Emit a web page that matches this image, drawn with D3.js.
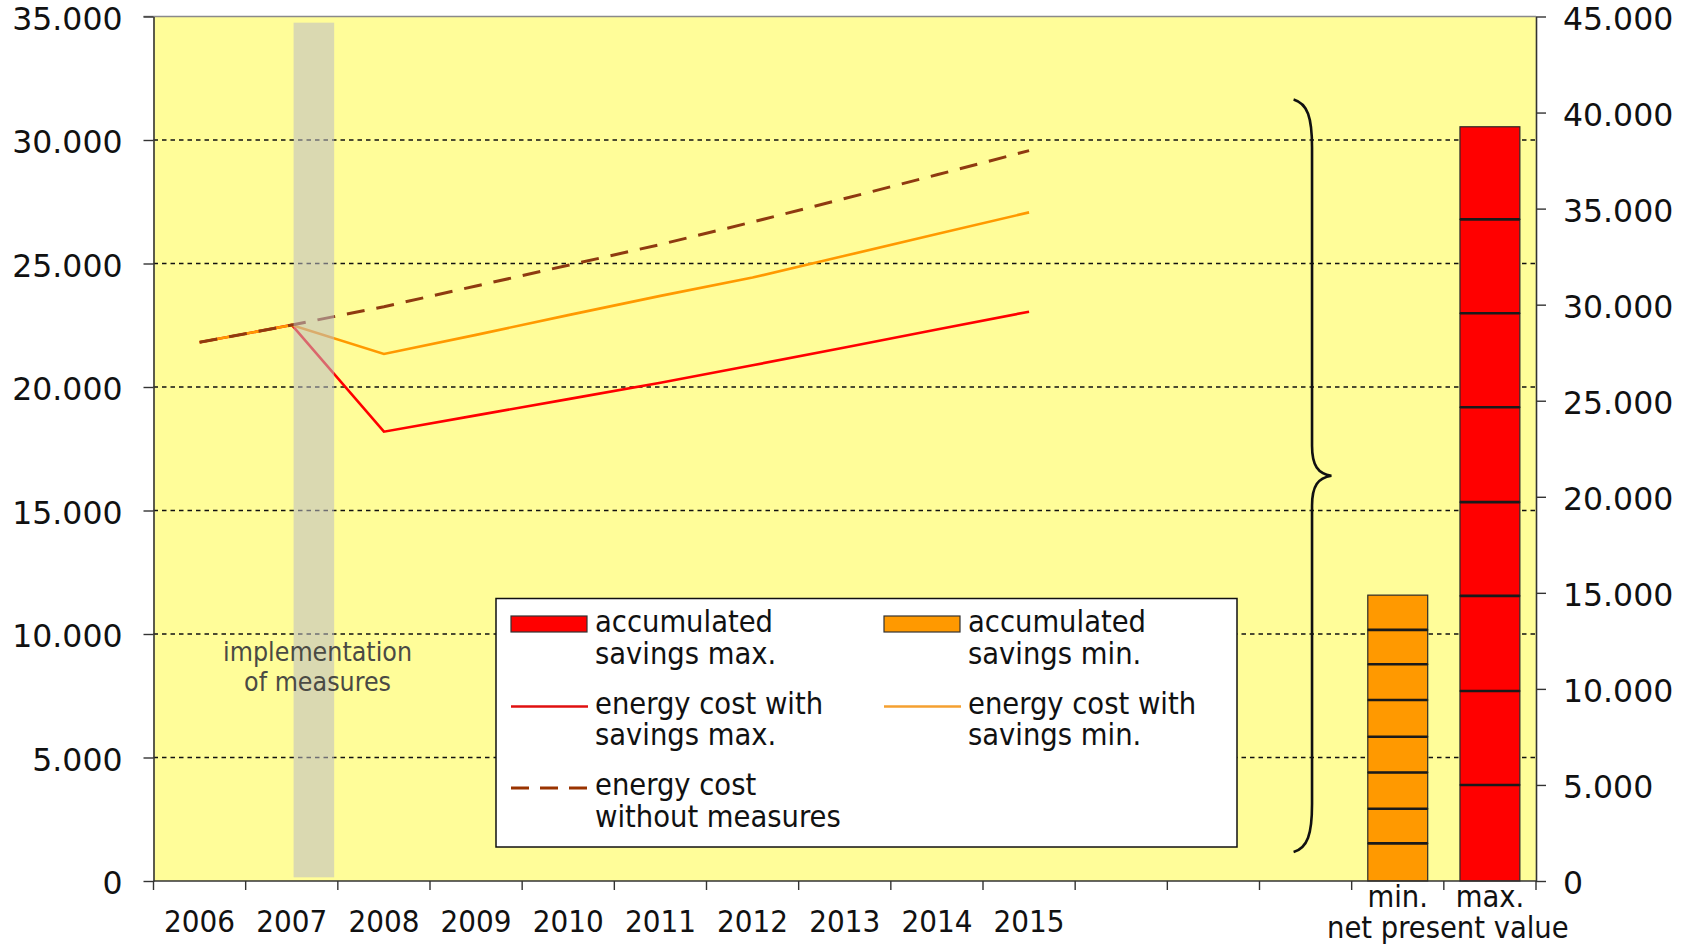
<!DOCTYPE html>
<html>
<head>
<meta charset="utf-8">
<script src="https://cdn.jsdelivr.net/npm/d3@7"></script>
<style>
  body { margin: 0; background: #ffffff; }
  svg { display: block; }
</style>
</head>
<body>
<svg id="chart"></svg>
<script>
/*
 * Data.
 */
let categories = ['2006', '2007', '2008', '2009', '2010', '2011', '2012', '2013', '2014', '2015',
                  'gap1', 'gap2', 'gap3', 'min', 'max'];
let category_labels = ['2006', '2007', '2008', '2009', '2010', '2011', '2012', '2013', '2014', '2015',
                       '', '', '', 'min.', 'max.'];
let group_label = 'net present value';

let line_years = [2006, 2007, 2008, 2009, 2010, 2011, 2012, 2013, 2014, 2015];
let cost_without_measures = [21810, 22510, 23250, 24090, 24930, 25770, 26680, 27630, 28590, 29570];
let cost_savings_min = [21810, 22510, 21340, 22110, 22910, 23690, 24430, 25310, 26190, 27070];
let cost_savings_max = [21810, 22510, 18190, 18850, 19510, 20170, 20880, 21600, 22330, 23050];

// accumulated (discounted) savings per year 2008..2015, stacked
let npv_min_parts = [1960, 1800, 1890, 1860, 1910, 1860, 1790, 1810];
let npv_max_parts = [5000, 4890, 4950, 4880, 4940, 4890, 4890, 4820];

let left_ticks = [0, 5000, 10000, 15000, 20000, 25000, 30000, 35000];
let right_ticks = [0, 5000, 10000, 15000, 20000, 25000, 30000, 35000, 40000, 45000];
let grid_values = [5000, 10000, 15000, 20000, 25000, 30000];

let implementation_years = [2007.02, 2007.46];
let implementation_values = [150, 34750];
let implementation_text = ['implementation', 'of measures'];
let brace_values = [1510, 40680];

let legend_items = [
  { kind: 'bar', color: '#ff0000', lines: ['accumulated', 'savings max.'] },
  { kind: 'bar', color: '#ff9900', lines: ['accumulated', 'savings min.'] },
  { kind: 'line', color: '#e01010', lines: ['energy cost with', 'savings max.'] },
  { kind: 'line', color: '#f5a030', lines: ['energy cost with', 'savings min.'] },
  { kind: 'dash', color: '#993300', lines: ['energy cost', 'without measures'] },
];

/*
 * Layout.
 */
let width = 1688, height = 946;
let plot = { left: 153.5, top: 16.5, right: 1536, bottom: 881 };

let axis_font = '"DejaVu Sans", Verdana, sans-serif';
let cond_font = '"DejaVu Sans Condensed", "DejaVu Sans", sans-serif';

let svg = d3.select('#chart')
  .attr('width', width)
  .attr('height', height);

let x = d3.scaleBand()
  .domain(categories)
  .range([plot.left, plot.right])
  .paddingInner(0.35)
  .paddingOuter(0.175);

function center(c) {
  return x(c) + x.bandwidth() / 2;
}

function slot_start(c) {
  return x(c) - x.step() * x.paddingOuter();
}

let x_year = d3.scaleLinear()
  .domain([2006, 2015])
  .range([center('2006'), center('2015')]);

let y_left = d3.scaleLinear()
  .domain([0, 35000])
  .range([plot.bottom, plot.top]);

let y_right = d3.scaleLinear()
  .domain([0, 45000])
  .range([plot.bottom, plot.top]);

let fmt = d3.formatLocale({ decimal: ',', thousands: '.', grouping: [3], currency: ['', ''] }).format(',');

/*
 * Plot area and grid.
 */
svg.append('rect')
  .attr('x', plot.left)
  .attr('y', plot.top)
  .attr('width', plot.right - plot.left)
  .attr('height', plot.bottom - plot.top)
  .style('fill', '#fffd99');

svg.append('g')
  .selectAll('line')
  .data(grid_values)
  .join('line')
  .attr('x1', plot.left)
  .attr('x2', plot.right)
  .attr('y1', d => y_left(d))
  .attr('y2', d => y_left(d))
  .style('stroke', '#111')
  .style('stroke-width', 1.5)
  .style('stroke-dasharray', '4.5,4');

svg.append('line')
  .attr('x1', plot.left - 10)
  .attr('x2', plot.right)
  .attr('y1', plot.top)
  .attr('y2', plot.top)
  .style('stroke', '#8a8a8a')
  .style('stroke-width', 1.5);

/*
 * Stacked net present value bars (right axis).
 */
function draw_stack(cat, parts, color) {
  let g = svg.append('g');
  let acc = 0;
  let segs = parts.map(v => { let s = { y0: acc, y1: acc + v }; acc += v; return s; });

  g.selectAll('rect')
    .data(segs)
    .join('rect')
    .attr('x', x(cat))
    .attr('width', x.bandwidth())
    .attr('y', d => y_right(d.y1))
    .attr('height', d => y_right(d.y0) - y_right(d.y1))
    .style('fill', color)
    .style('stroke', '#2a2a2a')
    .style('stroke-width', 1.2);

  g.selectAll('line')
    .data(segs.slice(1))
    .join('line')
    .attr('x1', x(cat))
    .attr('x2', x(cat) + x.bandwidth())
    .attr('y1', d => y_right(d.y0))
    .attr('y2', d => y_right(d.y0))
    .style('stroke', '#1a1a1a')
    .style('stroke-width', 2.6);
}

draw_stack('min', npv_min_parts, '#ff9900');
draw_stack('max', npv_max_parts, '#ff0000');

/*
 * Energy cost lines (left axis).
 */
let line = d3.line()
  .x((d, i) => x_year(line_years[i]))
  .y(d => y_left(d));

svg.append('path')
  .attr('d', line(cost_savings_max))
  .style('fill', 'none')
  .style('stroke', '#ff0000')
  .style('stroke-width', 2.6);

svg.append('path')
  .attr('d', line(cost_savings_min))
  .style('fill', 'none')
  .style('stroke', '#ff9900')
  .style('stroke-width', 2.6);

svg.append('path')
  .attr('d', line(cost_without_measures))
  .style('fill', 'none')
  .style('stroke', '#8f3a10')
  .style('stroke-width', 3)
  .style('stroke-dasharray', '18,12');

/*
 * Implementation period band, drawn over the lines.
 */
svg.append('rect')
  .attr('x', x_year(implementation_years[0]))
  .attr('width', x_year(implementation_years[1]) - x_year(implementation_years[0]))
  .attr('y', y_left(implementation_values[1]))
  .attr('height', y_left(implementation_values[0]) - y_left(implementation_values[1]))
  .style('fill', 'rgb(188,188,196)')
  .style('opacity', 0.55);

// two lines in one text element
let impl_x = x_year(2007.28);
svg.append('text')
  .attr('text-anchor', 'middle')
  .style('font-family', cond_font)
  .style('font-stretch', 'condensed')
  .style('font-size', '26.5px')
  .style('fill', '#4a4a44')
  .selectAll('tspan')
  .data(implementation_text)
  .join('tspan')
  .attr('x', impl_x)
  .attr('y', (d, i) => y_left(10000) + 27 + i * 29.5)
  .text(d => d);

/*
 * Curly brace.
 */
let b_end = slot_start('gap3') + 0.37 * x.step();
let b_stem = slot_start('gap3') + 0.57 * x.step();
let b_tip = slot_start('gap3') + 0.78 * x.step();
let b_top = y_right(brace_values[1]);
let b_bot = y_right(brace_values[0]);
let b_mid = (b_top + b_bot) / 2;

let brace = d3.path();
brace.moveTo(b_end, b_top);
brace.bezierCurveTo(b_end + 14, b_top + 4, b_stem, b_top + 18, b_stem, b_top + 48);
brace.lineTo(b_stem, b_mid - 30);
brace.bezierCurveTo(b_stem, b_mid - 10, b_stem + 6, b_mid - 2, b_tip, b_mid);
brace.bezierCurveTo(b_stem + 6, b_mid + 2, b_stem, b_mid + 10, b_stem, b_mid + 30);
brace.lineTo(b_stem, b_bot - 48);
brace.bezierCurveTo(b_stem, b_bot - 18, b_end + 14, b_bot - 4, b_end, b_bot);

svg.append('path')
  .attr('d', brace.toString())
  .style('fill', 'none')
  .style('stroke', '#111')
  .style('stroke-width', 2.6);

/*
 * Legend.
 */
let lg = svg.append('g').attr('transform', 'translate(496,598.5)');

lg.append('rect')
  .attr('width', 741)
  .attr('height', 248.5)
  .style('fill', '#ffffff')
  .style('stroke', '#111')
  .style('stroke-width', 1.5);

legend_items.forEach((item, k) => {
  let col = k % 2, row = Math.floor(k / 2);
  let ox = 15 + col * 373;
  let oy = 33.5 + row * 81.5;   // baseline of first text line
  let g = lg.append('g').attr('transform', `translate(${ox},${oy})`);

  if (item.kind == 'bar') {
    g.append('rect')
      .attr('x', 0)
      .attr('y', -16)
      .attr('width', 76)
      .attr('height', 16)
      .style('fill', item.color)
      .style('stroke', '#333')
      .style('stroke-width', 1.2);
  }
  else {
    g.append('line')
      .attr('x1', 0)
      .attr('x2', 77)
      .attr('y1', -7)
      .attr('y2', -7)
      .style('stroke', item.color)
      .style('stroke-width', item.kind == 'dash' ? 3 : 2.6)
      .style('stroke-dasharray', item.kind == 'dash' ? '18,11' : null);
  }

  g.append('text')
    .style('font-family', cond_font)
    .style('font-stretch', 'condensed')
    .style('font-size', '30.5px')
    .style('fill', '#111')
    .selectAll('tspan')
    .data(item.lines)
    .join('tspan')
    .attr('x', 84)
    .attr('y', (d, i) => i * 31.5)
    .text(d => d);
});

/*
 * Axes.
 */
let axis_left = svg.append('g')
  .attr('transform', `translate(${plot.left},0)`)
  .call(d3.axisLeft(y_left).tickValues(left_ticks).tickFormat(fmt)
        .tickSize(10).tickSizeOuter(0).tickPadding(21));

let axis_right = svg.append('g')
  .attr('transform', `translate(${plot.right},0)`)
  .call(d3.axisRight(y_right).tickValues(right_ticks).tickFormat(fmt)
        .tickSize(10).tickSizeOuter(0).tickPadding(17));

[axis_left, axis_right].forEach(a => {
  a.select('.domain').style('stroke', '#333').style('stroke-width', 1.6);
  a.selectAll('.tick line').style('stroke', '#333').style('stroke-width', 1.4);
  a.selectAll('.tick text')
    .attr('dy', '0.41em')
    .style('font-family', axis_font)
    .style('font-size', '31.5px')
    .style('fill', '#111');
});

/*
 * Category axis: ticks at slot boundaries, labels at centers.
 */
let boundaries = categories.map(c => slot_start(c)).concat([plot.right]);

svg.append('line')
  .attr('x1', plot.left)
  .attr('x2', plot.right)
  .attr('y1', plot.bottom)
  .attr('y2', plot.bottom)
  .style('stroke', '#333')
  .style('stroke-width', 1.6);

svg.append('g')
  .selectAll('line')
  .data(boundaries)
  .join('line')
  .attr('x1', d => d)
  .attr('x2', d => d)
  .attr('y1', plot.bottom)
  .attr('y2', plot.bottom + 9)
  .style('stroke', '#333')
  .style('stroke-width', 1.4);

let year_cats = categories.filter((c, i) => i < 10);

svg.append('g')
  .selectAll('text')
  .data(year_cats)
  .join('text')
  .attr('x', d => center(d))
  .attr('y', 932)
  .attr('text-anchor', 'middle')
  .style('font-family', cond_font)
  .style('font-stretch', 'condensed')
  .style('font-size', '31px')
  .style('fill', '#111')
  .text(d => category_labels[categories.indexOf(d)]);

// min./max. with the shared second line, as one text element
let value_label_rows = [
  { x: center('min'), y: 907, text: category_labels[categories.indexOf('min')] },
  { x: center('max'), y: 907, text: category_labels[categories.indexOf('max')] },
  { x: (center('min') + center('max')) / 2 + 4, y: 938, text: group_label },
];

svg.append('text')
  .attr('text-anchor', 'middle')
  .style('font-family', cond_font)
  .style('font-stretch', 'condensed')
  .style('font-size', '30.5px')
  .style('fill', '#111')
  .selectAll('tspan')
  .data(value_label_rows)
  .join('tspan')
  .attr('x', d => d.x)
  .attr('y', d => d.y)
  .text(d => d.text);
</script>
</body>
</html>
